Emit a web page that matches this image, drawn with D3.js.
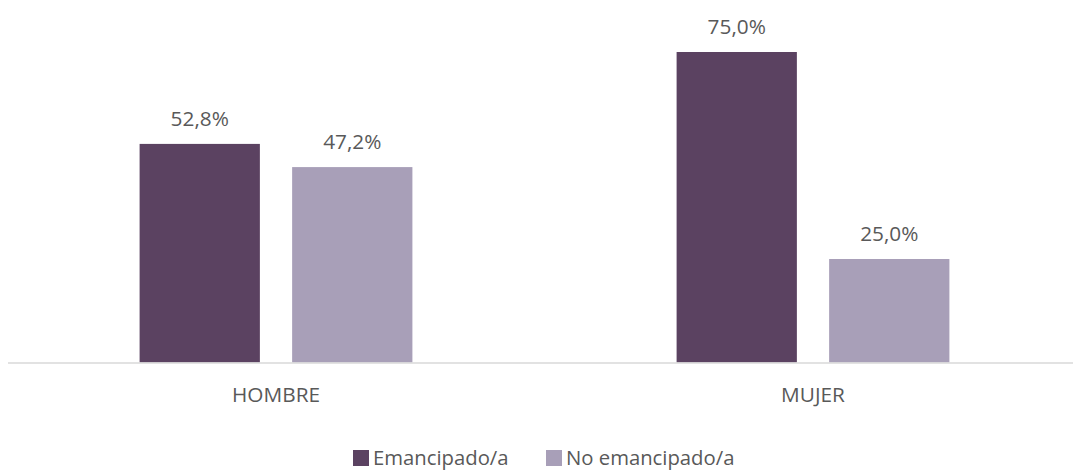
<!DOCTYPE html>
<html>
<head>
<meta charset="utf-8">
<script src="https://cdn.jsdelivr.net/npm/d3@7"></script>
<style>
  html, body { margin: 0; padding: 0; background: #fff; }
  svg { display: block; }
  text { font-family: "Open Sans", sans-serif; fill: #595959; }
</style>
</head>
<body>
<svg id="chart" width="1073" height="471"></svg>
<script>
const categories = ["HOMBRE", "MUJER"];
const seriesNames = ["Emancipado/a", "No emancipado/a"];
const emancipado = [52.8, 75.0];
const noEmancipado = [47.2, 25.0];
const colors = ["#5B4261", "#A89FB8"];

const svg = d3.select("#chart");
const baseY = 362.5;
const FS = "20.8px";

const x0 = d3.scaleBand().domain(categories).range([7.5, 1081.5]).paddingInner(0).paddingOuter(0);
const x1 = d3.scaleBand().domain(seriesNames).range([0, 272.8]).paddingInner(0.2115);
const y = d3.scaleLinear().domain([0, 80]).range([baseY, baseY - 331.2]);

const data = categories.map((c, i) => ({
  cat: c,
  vals: [
    { s: seriesNames[0], v: emancipado[i], color: colors[0] },
    { s: seriesNames[1], v: noEmancipado[i], color: colors[1] }
  ]
}));

const groups = svg.selectAll("g.grp").data(data).join("g")
  .attr("class", "grp")
  .attr("transform", d => `translate(${x0(d.cat) + x0.bandwidth() / 2 - 136.4},0)`);

groups.selectAll("rect").data(d => d.vals).join("rect")
  .attr("x", d => x1(d.s))
  .attr("y", d => y(d.v))
  .attr("width", x1.bandwidth())
  .attr("height", d => baseY - y(d.v))
  .attr("fill", d => d.color);

const fmt = v => v.toFixed(1).replace(".", ",") + "%";
groups.selectAll("text.lbl").data(d => d.vals).join("text")
  .attr("class", "lbl")
  .attr("x", d => x1(d.s) + x1.bandwidth() / 2)
  .attr("y", d => y(d.v) - 18)
  .attr("text-anchor", "middle")
  .style("font-size", FS)
  .text(d => fmt(d.v));

// axis line
const xAxis = d3.axisBottom(x0).tickSize(0).tickPadding(0);
const ax = svg.append("g").attr("transform", `translate(0,${baseY})`).call(xAxis);
ax.select(".domain").attr("stroke", "#D9D9D9").attr("stroke-width", 1.3);
ax.selectAll(".tick text")
  .attr("dy", null)
  .attr("y", 39.5)
  .style("font-size", FS)
  .style("font-family", "'Open Sans', sans-serif")
  .attr("fill", "#595959");

// legend
const legendItems = [
  { name: seriesNames[0], color: colors[0], x: 353 },
  { name: seriesNames[1], color: colors[1], x: 546 }
];
const lg = svg.append("g");
legendItems.forEach(it => {
  lg.append("rect").attr("x", it.x).attr("y", 450).attr("width", 16).attr("height", 16).attr("fill", it.color);
  lg.append("text").attr("x", it.x + 20).attr("y", 465).style("font-size", "20.3px").text(it.name);
});
</script>
</body>
</html>
